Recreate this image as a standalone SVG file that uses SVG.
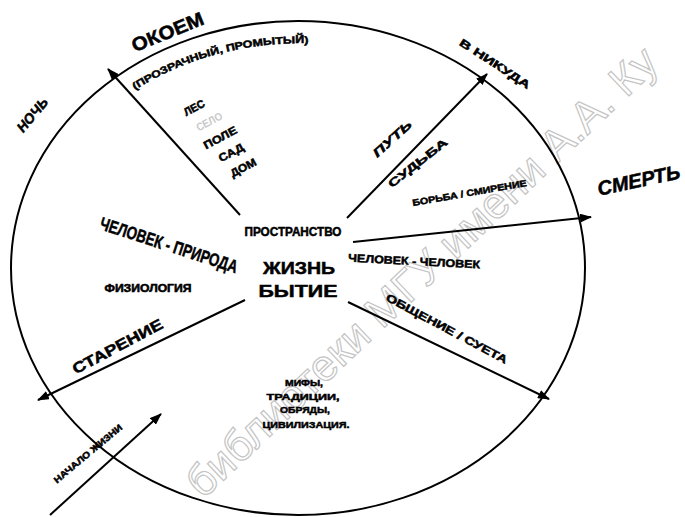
<svg xmlns="http://www.w3.org/2000/svg" width="685" height="517" viewBox="0 0 685 517">
<style>
.t{font-family:"Liberation Sans",Arial,sans-serif;font-weight:bold;fill:#000;stroke:#000;stroke-width:0.5}
.i{font-style:italic}
.ln{stroke:#000;stroke-width:2;fill:none}
.wm{font-family:"Liberation Sans",Arial,sans-serif;font-size:44px;fill:none;stroke:#c4c4c4;stroke-width:1.2}
.fade{fill:#c8c8c8;stroke:none}
</style>
<defs>
<marker id="ah" markerUnits="userSpaceOnUse" markerWidth="12" markerHeight="9" refX="11" refY="4.5" orient="auto">
<path d="M0,0 L12,4.5 L0,9 z" fill="#000"/>
</marker>
<path id="arcOk" d="M135,90 A270,225 0 0 1 320,44"/>
</defs>
<rect width="685" height="517" fill="#fff"/>
<g id="watermark">
<text class="wm" transform="translate(203,500) rotate(-43.5)">библиотеки МГУ имени А.А. Ку</text>
</g>
<g id="circle">
<ellipse cx="298" cy="268" rx="287" ry="247" class="ln"/>
</g>
<g id="connectors">
<path class="ln" d="M240,215 L108,69" marker-end="url(#ah)"/>
<path class="ln" d="M347,218 L487,74" marker-end="url(#ah)"/>
<path class="ln" d="M353,242 L591,217" marker-end="url(#ah)"/>
<path class="ln" d="M348,302 L549,399" marker-end="url(#ah)"/>
<path class="ln" d="M245,300 L38,400" marker-end="url(#ah)"/>
<path class="ln" d="M50,515 L161,414" marker-end="url(#ah)"/>
</g>
<g id="center">
<text class="t" x="293" y="236" font-size="12" text-anchor="middle" textLength="97" lengthAdjust="spacingAndGlyphs">ПРОСТРАНСТВО</text>
<text class="t" x="299" y="274" font-size="17" text-anchor="middle" textLength="72" lengthAdjust="spacingAndGlyphs">ЖИЗНЬ</text>
<text class="t" x="298" y="297" font-size="17" text-anchor="middle" textLength="79" lengthAdjust="spacingAndGlyphs">БЫТИЕ</text>
</g>
<g id="horizon">
<text class="t" font-size="19" text-anchor="middle" textLength="76" lengthAdjust="spacingAndGlyphs" transform="translate(170,38) rotate(-22)">ОКОЕМ</text>
<text class="t" font-size="10"><textPath href="#arcOk" textLength="182" lengthAdjust="spacingAndGlyphs">(ПРОЗРАЧНЫЙ, ПРОМЫТЫЙ)</textPath></text>
</g>
<g id="night">
<text class="t i" font-size="14" text-anchor="middle" textLength="40" lengthAdjust="spacingAndGlyphs" transform="translate(36,118) rotate(-50)">НОЧЬ</text>
</g>
<g id="places">
<text class="t" font-size="11" text-anchor="middle" textLength="22" lengthAdjust="spacingAndGlyphs" transform="translate(196,111) rotate(-28)">ЛЕС</text>
<text class="t fade" font-size="11" text-anchor="middle" textLength="28" lengthAdjust="spacingAndGlyphs" transform="translate(211,125) rotate(-28)">СЕЛО</text>
<text class="t" font-size="11" text-anchor="middle" textLength="36" lengthAdjust="spacingAndGlyphs" transform="translate(222,141) rotate(-28)">ПОЛЕ</text>
<text class="t" font-size="11" text-anchor="middle" textLength="27" lengthAdjust="spacingAndGlyphs" transform="translate(233,156) rotate(-28)">САД</text>
<text class="t" font-size="11" text-anchor="middle" textLength="28" lengthAdjust="spacingAndGlyphs" transform="translate(245,171) rotate(-28)">ДОМ</text>
</g>
<g id="nowhere">
<text class="t" font-size="11" text-anchor="middle" textLength="82" lengthAdjust="spacingAndGlyphs" transform="translate(493,67) rotate(33)">В НИКУДА</text>
</g>
<g id="fate">
<text class="t i" font-size="12" text-anchor="middle" textLength="48" lengthAdjust="spacingAndGlyphs" transform="translate(395,142) rotate(-42)">ПУТЬ</text>
<text class="t" font-size="11" text-anchor="middle" textLength="72" lengthAdjust="spacingAndGlyphs" transform="translate(420,166) rotate(-38)">СУДЬБА</text>
</g>
<g id="death">
<text class="t" font-size="9" text-anchor="middle" textLength="116" lengthAdjust="spacingAndGlyphs" transform="translate(470,196) rotate(-10)">БОРЬБА / СМИРЕНИЕ</text>
<text class="t i" font-size="20" text-anchor="middle" textLength="84" lengthAdjust="spacingAndGlyphs" transform="translate(640,187) rotate(-12)">СМЕРТЬ</text>
</g>
<g id="man-man">
<text class="t" font-size="11" text-anchor="middle" textLength="132" lengthAdjust="spacingAndGlyphs" transform="translate(414,265) rotate(3)">ЧЕЛОВЕК - ЧЕЛОВЕК</text>
<text class="t" font-size="11" text-anchor="middle" textLength="136" lengthAdjust="spacingAndGlyphs" transform="translate(445,332) rotate(28)">ОБЩЕНИЕ / СУЕТА</text>
</g>
<g id="man-nature">
<text class="t" font-size="18" text-anchor="middle" textLength="144" lengthAdjust="spacingAndGlyphs" transform="translate(167,251) rotate(18)">ЧЕЛОВЕК - ПРИРОДА</text>
<text class="t" x="148" y="292" font-size="10" text-anchor="middle" textLength="87" lengthAdjust="spacingAndGlyphs">ФИЗИОЛОГИЯ</text>
</g>
<g id="aging">
<text class="t" font-size="15" text-anchor="middle" textLength="100" lengthAdjust="spacingAndGlyphs" transform="translate(120,351) rotate(-28)">СТАРЕНИЕ</text>
</g>
<g id="culture">
<text class="t" x="304" y="386" font-size="9" text-anchor="middle" textLength="38" lengthAdjust="spacingAndGlyphs">МИФЫ,</text>
<text class="t" x="303" y="400" font-size="9" text-anchor="middle" textLength="73" lengthAdjust="spacingAndGlyphs">ТРАДИЦИИ,</text>
<text class="t" x="305" y="413" font-size="9" text-anchor="middle" textLength="50" lengthAdjust="spacingAndGlyphs">ОБРЯДЫ,</text>
<text class="t" x="306" y="428" font-size="9" text-anchor="middle" textLength="87" lengthAdjust="spacingAndGlyphs">ЦИВИЛИЗАЦИЯ.</text>
</g>
<g id="birth">
<text class="t" font-size="9" text-anchor="middle" textLength="86" lengthAdjust="spacingAndGlyphs" transform="translate(90,456) rotate(-40)">НАЧАЛО ЖИЗНИ</text>
</g>
</svg>
